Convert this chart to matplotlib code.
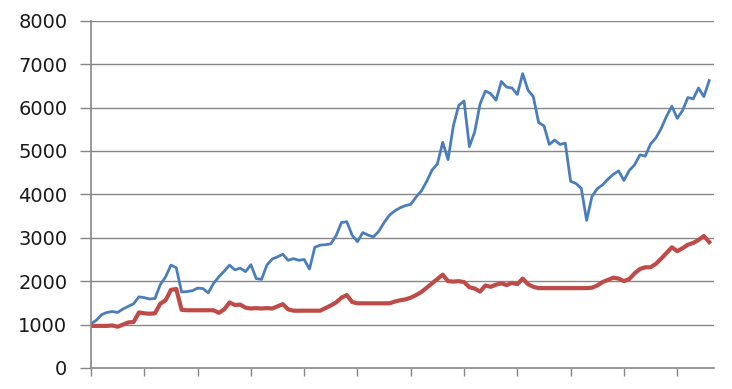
import matplotlib
matplotlib.use("Agg")
import matplotlib.pyplot as plt
import numpy as np

# values, one per category step
blue = [1020, 1100, 1230, 1280, 1300, 1280, 1360, 1420, 1480, 1640,
        1620, 1590, 1600, 1920, 2100, 2370, 2310, 1750, 1760, 1780,
        1840, 1830, 1730, 1950, 2100, 2230, 2370, 2260, 2300, 2220,
        2380, 2060, 2040, 2370, 2510, 2560, 2620, 2480, 2520, 2480,
        2500, 2280, 2780, 2830, 2840, 2860, 3050, 3350, 3370, 3060,
        2910, 3120, 3060, 3020, 3150, 3350, 3520, 3620, 3690, 3740,
        3770, 3940, 4080, 4300, 4560, 4700, 5200, 4800, 5580, 6050,
        6150, 5100, 5440, 6080, 6380, 6320, 6170, 6600, 6470, 6450,
        6300, 6780, 6400, 6250, 5650, 5580, 5150, 5250, 5150, 5180,
        4300, 4250, 4140, 3400, 3950, 4130, 4220, 4350, 4460, 4540,
        4320, 4550, 4680, 4910, 4880, 5160, 5300, 5520, 5800, 6030,
        5750, 5930, 6230, 6200, 6450, 6250, 6620]

red = [970, 970, 970, 970, 980, 950, 1000, 1050, 1060, 1280,
       1260, 1250, 1260, 1480, 1560, 1800, 1820, 1340, 1330, 1330,
       1330, 1330, 1330, 1330, 1270, 1350, 1510, 1450, 1460, 1390,
       1370, 1380, 1370, 1380, 1370, 1420, 1470, 1350, 1320, 1320,
       1320, 1320, 1320, 1320, 1380, 1440, 1510, 1620, 1680, 1520,
       1490, 1490, 1490, 1490, 1490, 1490, 1490, 1530, 1560, 1580,
       1620, 1680, 1750, 1850, 1950, 2050, 2150, 2000, 1990, 2000,
       1980, 1860, 1830, 1760, 1900, 1870, 1920, 1950, 1910, 1960,
       1930, 2060, 1930, 1870, 1840, 1840, 1840, 1840, 1840, 1840,
       1840, 1840, 1840, 1840, 1850, 1900, 1980, 2030, 2080, 2060,
       2000, 2050, 2180, 2280, 2320, 2320, 2400, 2520, 2650, 2780,
       2690, 2760, 2840, 2880, 2950, 3040, 2900]

y_ticks = [0, 1000, 2000, 3000, 4000, 5000, 6000, 7000, 8000]

x = np.arange(len(blue))

fig = plt.figure(figsize=(7.32, 3.89), dpi=100)
ax = fig.add_axes([0.1243, 0.054, 0.8511, 0.8928])

ax.plot(x, blue, color="#4a7ebb", linewidth=2.0, solid_joinstyle="round")
ax.plot(x, red, color="#be4b48", linewidth=3.0, solid_joinstyle="round")

ax.set_ylim(0, 8000)
ax.set_xlim(0, 116.9)
ax.set_yticks(y_ticks)
ax.set_yticklabels([str(v) for v in y_ticks])
ax.set_xticks(np.arange(0, 111, 10))
ax.set_xticklabels([])

ax.grid(axis="y", color="#868686", linewidth=1.0)
ax.set_axisbelow(True)

for s in ["top", "right"]:
    ax.spines[s].set_visible(False)
for s in ["left", "bottom"]:
    ax.spines[s].set_color("#868686")
    ax.spines[s].set_linewidth(1.2)

ax.tick_params(axis="y", length=8, width=1.0, color="#868686",
               labelsize=14, labelcolor="#1a1a1a", pad=9)
ax.tick_params(axis="x", length=6, width=1.0, color="#868686")

fig.savefig("out.png", dpi=100)
